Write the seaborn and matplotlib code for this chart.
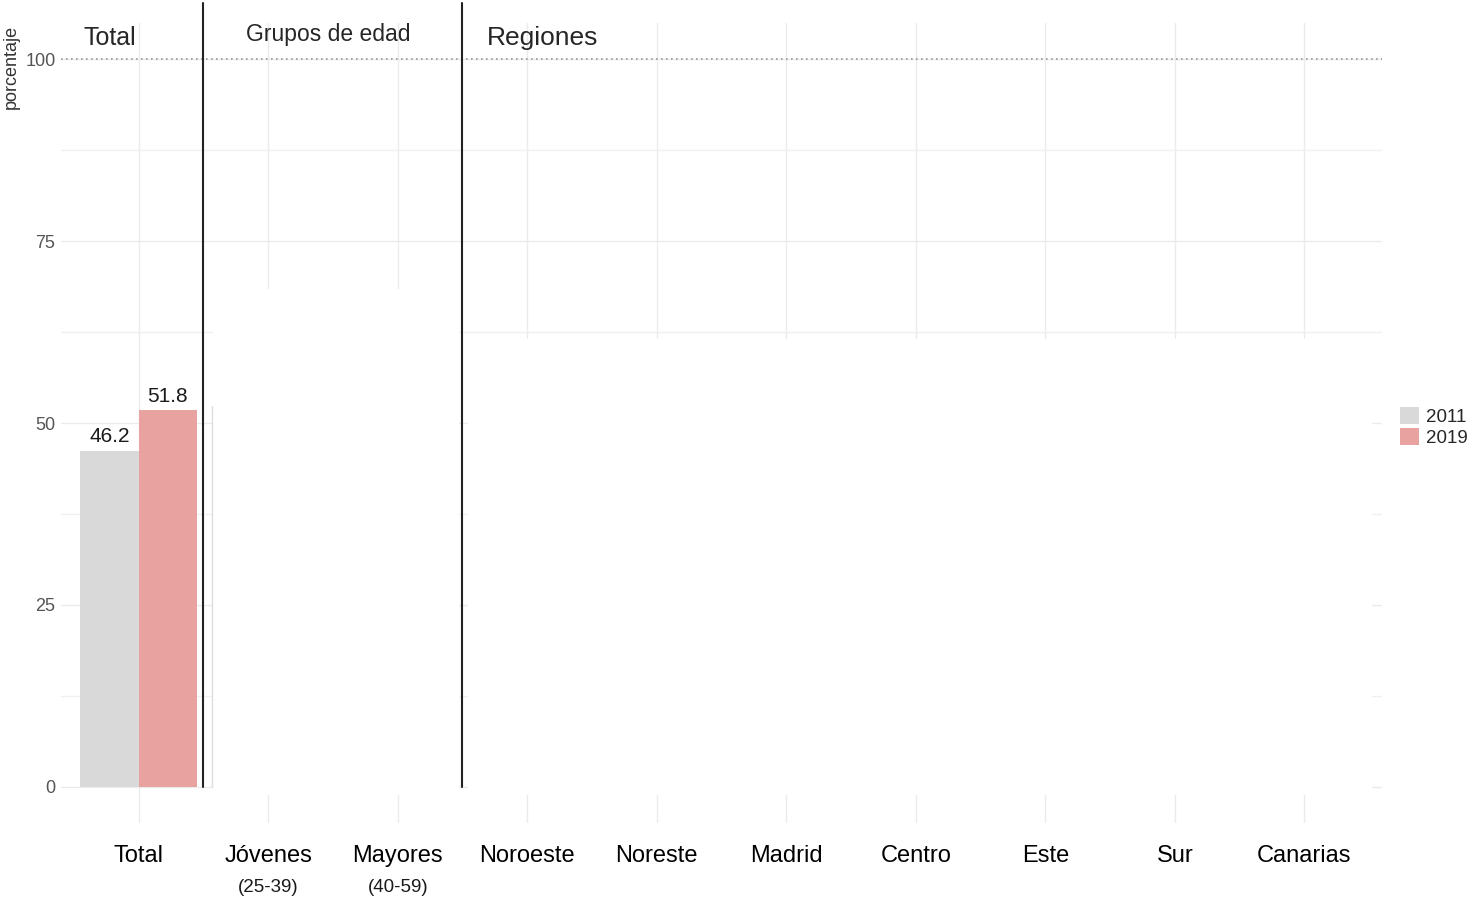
import numpy as np
import pandas as pd
import matplotlib
matplotlib.use("Agg")
import matplotlib.pyplot as plt
import matplotlib.transforms as mtransforms
from matplotlib.patches import Rectangle
import seaborn as sns

############### Datos ####################
categorias = ["Total", "Jóvenes", "Mayores", "Noroeste", "Noreste",
              "Madrid", "Centro", "Este", "Sur", "Canarias"]
subetiquetas = ["", "(25-39)", "(40-59)", "", "", "", "", "", "", ""]
anios = ["2011", "2019"]
valores_total = [46.2, 51.8]
colores = ["#D9D9D9", "#E8A3A1"]

sns.set_theme(style="white")
plt.rcParams['font.family'] = ['Liberation Sans', 'DejaVu Sans']

df = pd.DataFrame({
    "categoria": ["Total"] * len(anios),
    "anio": anios,
    "porcentaje": valores_total,
})

############### Figura ####################
fig = plt.figure(figsize=(14.73, 9), dpi=100)
ax = fig.add_axes([61 / 1473, 77 / 900, 1321 / 1473, 800 / 900])

sns.barplot(data=df, x="categoria", y="porcentaje", hue="anio",
            order=categorias, hue_order=anios, palette=colores,
            width=0.9, saturation=1, linewidth=0, ax=ax, zorder=3)

for cont in ax.containers:
    ax.bar_label(cont, fmt="%.1f", padding=3, fontsize=15, color="#1a1a1a")

ax.set_xlim(-0.6, len(categorias) - 0.4)
ax.set_ylim(-5, 105)
ax.set_yticks([0, 25, 50, 75, 100])
ax.set_yticks([12.5, 37.5, 62.5, 87.5], minor=True)
ax.set_axisbelow(True)
ax.grid(which="major", color="#EBEBEB", lw=1)
ax.grid(which="minor", axis="y", color="#F0F0F0", lw=1)
ax.axhline(100, color="#9A9A9A", ls=(0, (1, 2)), lw=1.2, zorder=2)

# zonas tapadas en blanco
ax.add_patch(Rectangle((0.57, -1.1), 1.9, 69.5, facecolor="white",
                       edgecolor="none", zorder=1))
ax.add_patch(Rectangle((2.54, -1.1), 6.98, 62.6, facecolor="white",
                       edgecolor="none", zorder=1))
ax.plot([0.563, 0.563], [0, 52.3], color="#DEDEDE", lw=1, zorder=1.2)

# separadores de secciones
for xs in [0.5, 2.5]:
    ax.plot([xs, xs], [0, 107.8], color="#222222", lw=1.5,
            clip_on=False, zorder=4)

ax.text(-0.22, 103.0, "Total", fontsize=18, ha="center", va="center")
ax.text(1.465, 103.4, "Grupos de edad", fontsize=16.5, ha="center", va="center")
ax.text(2.69, 103.0, "Regiones", fontsize=19, ha="left", va="center")

for s in ax.spines.values():
    s.set_visible(False)
ax.tick_params(axis="both", which="both", length=0)
ax.tick_params(axis="x", labelsize=17, labelcolor="black", pad=16)
ax.tick_params(axis="y", labelsize=13, labelcolor="#555555", pad=4)
ax.set_xlabel("")
ax.set_ylabel("porcentaje", fontsize=13, color="#333333")
ax.yaxis.set_label_coords(-0.031, 0.945)

trans = mtransforms.blended_transform_factory(ax.transData, ax.transAxes)
for i, sub in enumerate(subetiquetas):
    if sub:
        ax.text(i, -0.08, sub, transform=trans, fontsize=13.5,
                ha="center", va="center", color="#1a1a1a")

sns.move_legend(ax, loc="center left", bbox_to_anchor=(1400 / 1473, 473 / 900),
                bbox_transform=fig.transFigure, title=None, frameon=False,
                fontsize=13.5, handlelength=1.0, handleheight=1.0,
                labelspacing=0.1, handletextpad=0.4, borderpad=0,
                borderaxespad=0)

plt.savefig("out.png", dpi=100)
